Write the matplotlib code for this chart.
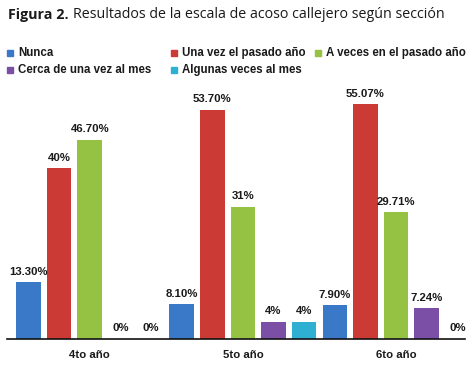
import numpy as np
import matplotlib
matplotlib.use("Agg")
import matplotlib.pyplot as plt
from matplotlib.patches import Rectangle

grupos = ["4to año", "5to año", "6to año"]
series = ["Nunca", "Una vez el pasado año", "A veces en el pasado año",
          "Cerca de una vez al mes", "Algunas veces al mes"]
nunca = [13.30, 8.10, 7.90]
una_vez = [40.0, 53.70, 55.07]
a_veces = [46.70, 31.0, 29.71]
cerca = [0.0, 4.0, 7.24]
algunas = [0.0, 4.0, 0.0]
etiquetas = [["13.30%", "8.10%", "7.90%"],
             ["40%", "53.70%", "55.07%"],
             ["46.70%", "31%", "29.71%"],
             ["0%", "4%", "7.24%"],
             ["0%", "4%", "0%"]]
colores = ["#3a79c8", "#cc3a36", "#95c243", "#7b4fa5", "#2eb0d2"]

plt.rcParams['font.family'] = ['Liberation Sans', 'DejaVu Sans']

fig = plt.figure(figsize=(4.73, 3.68), dpi=100)
W, H = 473, 368
ax = fig.add_axes([7 / W, (H - 339) / H, (465 - 7) / W, (339 - 95) / H])

valores = [nunca, una_vez, a_veces, cerca, algunas]
x = np.arange(len(grupos))
slot = 0.2
for i, vals in enumerate(valores):
    pos = x + (i - 2) * slot
    bars = ax.bar(pos, vals, width=0.16, color=colores[i])
    for b, lab in zip(bars, etiquetas[i]):
        ax.annotate(lab, (b.get_x() + b.get_width() / 2, b.get_height()),
                    xytext=(0, 4), textcoords="offset points",
                    ha="center", va="bottom", fontsize=8.2,
                    fontweight="bold", color="#1a1a1a")

ax.set_xlim(-0.54, 2.45)
ax.set_ylim(0, 57.2)
ax.set_yticks([])
ax.set_xticks(x)
ax.set_xticklabels(grupos, fontsize=8.2, fontweight="bold", color="#1a1a1a")
ax.tick_params(axis="x", length=0, pad=8)
for s in ["top", "right", "left"]:
    ax.spines[s].set_visible(False)
ax.spines["bottom"].set_color("#111111")
ax.spines["bottom"].set_linewidth(1.2)

# legend drawn by hand (two rows, three columns)
leg_pos = [(7, 53), (171, 53), (315, 53), (7, 70), (171, 70)]
for (lx, ly), nombre, c in zip(leg_pos, series, colores):
    fig.patches.append(Rectangle((lx / W, (H - ly - 3) / H), 6 / W, 6 / H,
                                 transform=fig.transFigure, color=c))
    fig.text((lx + 11) / W, (H - ly) / H, nombre, fontsize=8.3,
             fontweight="bold", color="#1a1a1a", va="center", ha="left")

# title
t1 = fig.text(8 / W, (H - 15) / H, "Figura 2.", fontsize=10.3,
              fontweight="bold", family=["Open Sans", "DejaVu Sans"],
              va="center", ha="left", color="#1a1a1a")
fig.canvas.draw()
bb = t1.get_window_extent()
fig.text((bb.x1 + 4) / W, (H - 15) / H,
         "Resultados de la escala de acoso callejero según sección",
         fontsize=10.3, family=["Open Sans", "DejaVu Sans"],
         va="center", ha="left", color="#1a1a1a")

fig.savefig("out.png", dpi=100)
